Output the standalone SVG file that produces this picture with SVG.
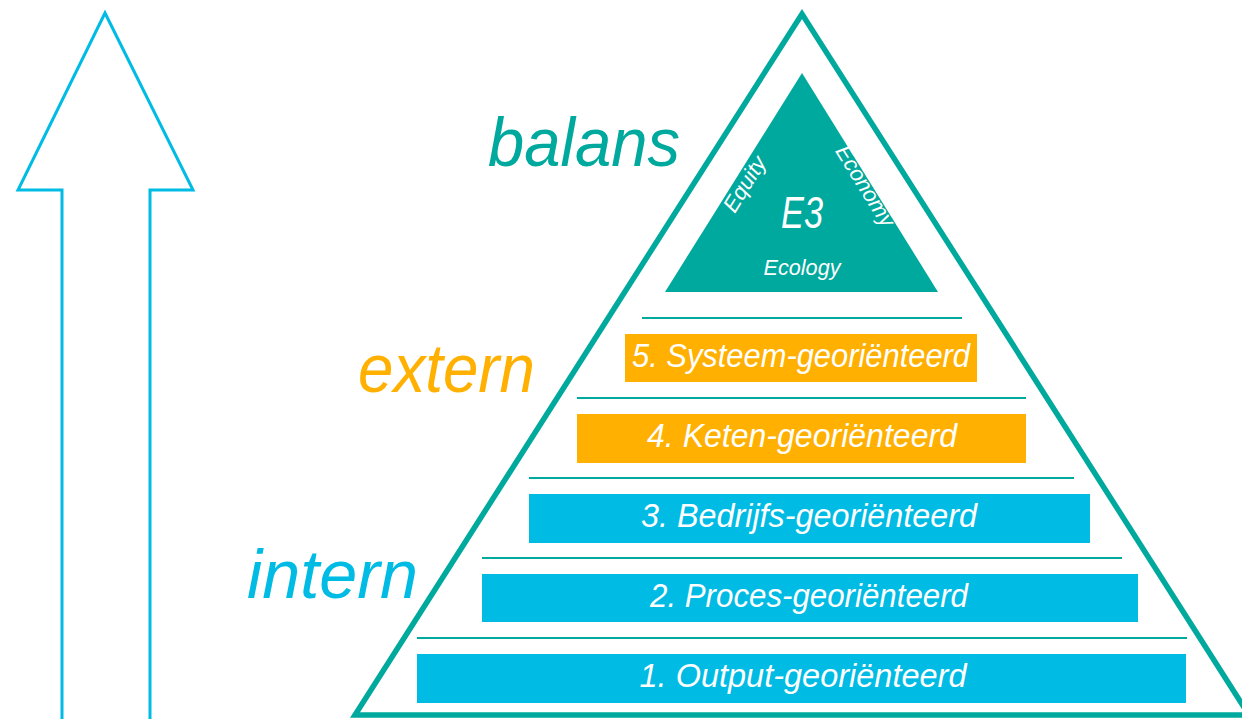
<svg xmlns="http://www.w3.org/2000/svg" width="1242" height="719" viewBox="0 0 1242 719">
<style>
.it{font-family:"Liberation Sans",Arial,sans-serif;font-style:italic}
.bar-t{fill:#ffffff;font-size:33px;text-anchor:middle}
.sep{stroke:#00a99d;stroke-width:2}
.big{font-size:68px}
.w{fill:#ffffff}
</style>
<rect width="1242" height="719" fill="#ffffff"/>
<g id="arrow">
<polygon points="105,13 18,190 62,190 62,725 150,725 150,190 193,190" fill="none" stroke="#00bce4" stroke-width="3" stroke-linejoin="miter"/>
</g>
<g id="pyramid">
<polygon points="802,14 355,715 1249,715" fill="none" stroke="#00a99d" stroke-width="5.5" stroke-linejoin="miter"/>
</g>
<g id="e3">
<polygon points="802,73 665,292 938,292" fill="#00a99d"/>
<text class="it w" x="802" y="228" font-size="44" text-anchor="middle" textLength="42" lengthAdjust="spacingAndGlyphs">E3</text>
<text class="it w" x="802" y="275" font-size="22" text-anchor="middle" textLength="77" lengthAdjust="spacingAndGlyphs">Ecology</text>
<text class="it w" font-size="22" text-anchor="middle" transform="translate(751,188) rotate(-58)">Equity</text>
<text class="it w" font-size="22" text-anchor="middle" transform="translate(859,190) rotate(58)">Economy</text>
</g>
<g id="connectors">
<line class="sep" x1="642" y1="318" x2="962" y2="318"/>
<line class="sep" x1="577" y1="398" x2="1026" y2="398"/>
<line class="sep" x1="529" y1="478" x2="1074" y2="478"/>
<line class="sep" x1="482" y1="558" x2="1122" y2="558"/>
<line class="sep" x1="417" y1="638" x2="1187" y2="638"/>
</g>
<g id="level5">
<rect x="625" y="334" width="352" height="48" fill="#ffb000"/>
<text class="it bar-t" x="801" y="367" textLength="338" lengthAdjust="spacingAndGlyphs">5. Systeem-georiënteerd</text>
</g>
<g id="level4">
<rect x="577" y="414" width="449" height="49" fill="#ffb000"/>
<text class="it bar-t" x="802" y="447" textLength="310" lengthAdjust="spacingAndGlyphs">4. Keten-georiënteerd</text>
</g>
<g id="level3">
<rect x="529" y="494" width="561" height="49" fill="#00bbe3"/>
<text class="it bar-t" x="809" y="527" textLength="336" lengthAdjust="spacingAndGlyphs">3. Bedrijfs-georiënteerd</text>
</g>
<g id="level2">
<rect x="482" y="574" width="656" height="48" fill="#00bbe3"/>
<text class="it bar-t" x="809" y="607" textLength="318" lengthAdjust="spacingAndGlyphs">2. Proces-georiënteerd</text>
</g>
<g id="level1">
<rect x="417" y="654" width="769" height="49" fill="#00bbe3"/>
<text class="it bar-t" x="803" y="687" textLength="327" lengthAdjust="spacingAndGlyphs">1. Output-georiënteerd</text>
</g>
<g id="labels">
<text class="it big" x="488" y="166" fill="#00a99d" textLength="192" lengthAdjust="spacingAndGlyphs">balans</text>
<text class="it big" x="358" y="392" fill="#ffb000" textLength="177" lengthAdjust="spacingAndGlyphs">extern</text>
<text class="it big" x="247" y="598" fill="#00bbe3" textLength="171" lengthAdjust="spacingAndGlyphs">intern</text>
</g>
</svg>
